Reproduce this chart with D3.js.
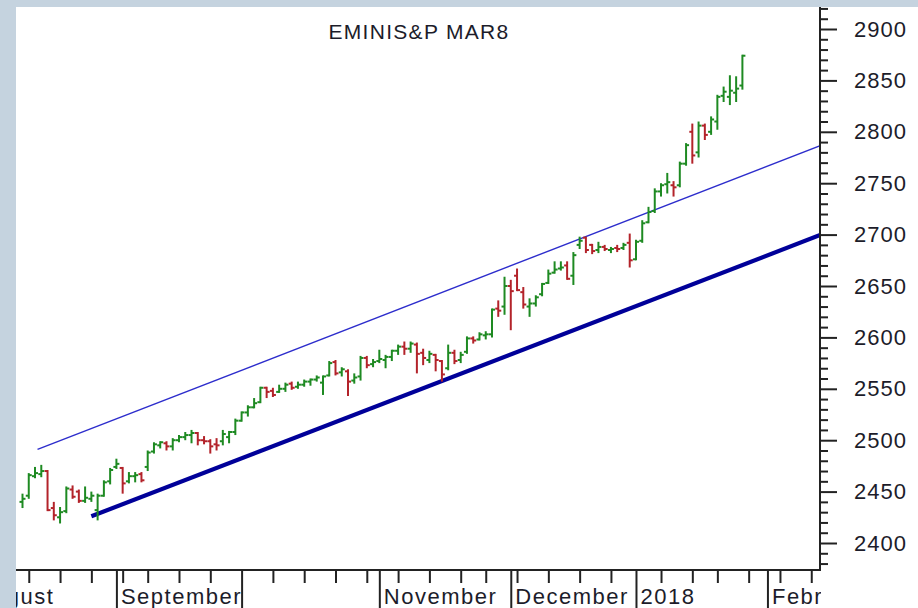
<!DOCTYPE html>
<html><head><meta charset="utf-8">
<script src="https://cdn.jsdelivr.net/npm/d3@7/dist/d3.min.js"></script>
<style>
html,body{margin:0;padding:0;background:#c5d3df;}
svg{display:block;}
text{font-family:"Liberation Sans",Arial,sans-serif;}
</style></head>
<body><svg id="c" width="918" height="608"></svg>
<script>
// ---- data ----
const title = "EMINIS&P MAR8";
const dates = [
"2017-08-11","2017-08-14","2017-08-15","2017-08-16","2017-08-17","2017-08-18","2017-08-21","2017-08-22","2017-08-23","2017-08-24","2017-08-25","2017-08-28","2017-08-29","2017-08-30","2017-08-31",
"2017-09-01","2017-09-05","2017-09-06","2017-09-07","2017-09-08","2017-09-11","2017-09-12","2017-09-13","2017-09-14","2017-09-15","2017-09-18","2017-09-19","2017-09-20","2017-09-21","2017-09-22","2017-09-25","2017-09-26","2017-09-27","2017-09-28","2017-09-29",
"2017-10-02","2017-10-03","2017-10-04","2017-10-05","2017-10-06","2017-10-09","2017-10-10","2017-10-11","2017-10-12","2017-10-13","2017-10-16","2017-10-17","2017-10-18","2017-10-19","2017-10-20","2017-10-23","2017-10-24","2017-10-25","2017-10-26","2017-10-27","2017-10-30","2017-10-31",
"2017-11-01","2017-11-02","2017-11-03","2017-11-06","2017-11-07","2017-11-08","2017-11-09","2017-11-10","2017-11-13","2017-11-14","2017-11-15","2017-11-16","2017-11-17","2017-11-20","2017-11-21","2017-11-22","2017-11-24","2017-11-27","2017-11-28","2017-11-29","2017-11-30",
"2017-12-01","2017-12-04","2017-12-05","2017-12-06","2017-12-07","2017-12-08","2017-12-11","2017-12-12","2017-12-13","2017-12-14","2017-12-15","2017-12-18","2017-12-19","2017-12-20","2017-12-21","2017-12-22","2017-12-26","2017-12-27","2017-12-28","2017-12-29",
"2018-01-02","2018-01-03","2018-01-04","2018-01-05","2018-01-08","2018-01-09","2018-01-10","2018-01-11","2018-01-12","2018-01-16","2018-01-17","2018-01-18","2018-01-19","2018-01-22","2018-01-23","2018-01-24","2018-01-25","2018-01-26"];
const opens = [
2440,2446,2465,2467,2470,2434,2425,2431,2452,2450,2441,2443,2432,2446,2460,
2474,2473,2460,2465,2467,2474,2489,2495,2497,2494,2500,2503,2505,2507,2500,2499,2496,2499,2503,2508,
2519,2527,2532,2537,2551,2548,2547,2550,2555,2552,2554,2557,2559,2556,2563,2576,2566,2567,2558,2562,2580,2574,
2577,2578,2581,2587,2591,2589,2593,2585,2578,2583,2577,2570,2585,2578,2586,2599,2598,2602,2603,2628,2630,
2650,2660,2644,2630,2633,2642,2653,2663,2667,2670,2660,2690,2697,2690,2685,2688,2685,2687,2687,2692,
2676,2694,2712,2723,2742,2749,2748,2748,2769,2800,2780,2806,2800,2810,2835,2834,2838,2845];
const highs = [
2448,2468,2474,2476,2471,2440,2435,2455,2456,2452,2455,2450,2448,2461,2473,
2482,2474,2469,2469,2469,2490,2498,2499,2499,2502,2505,2508,2510,2508,2504,2501,2502,2510,2509,2521,
2528,2534,2541,2552,2552,2551,2554,2556,2557,2557,2559,2560,2563,2563,2577,2578,2571,2569,2565,2582,2582,2579,
2588,2583,2588,2593,2596,2596,2595,2589,2587,2584,2578,2593,2588,2586,2601,2601,2605,2606,2628,2636,2659,
2656,2667,2649,2638,2641,2653,2666,2674,2674,2674,2683,2698,2698,2691,2693,2690,2688,2690,2692,2701,
2695,2714,2727,2745,2750,2760,2752,2771,2789,2808,2810,2808,2815,2836,2844,2855,2854,2875];
const lows = [
2434,2443,2463,2464,2431,2422,2419,2429,2443,2439,2439,2440,2422,2445,2457,
2472,2448,2458,2459,2459,2470,2487,2492,2490,2490,2498,2500,2497,2495,2496,2487,2490,2495,2497,2505,
2518,2523,2531,2536,2541,2542,2546,2547,2549,2550,2552,2553,2557,2544,2562,2563,2562,2543,2555,2558,2570,2571,
2575,2570,2577,2583,2583,2585,2565,2573,2575,2567,2557,2568,2574,2575,2584,2594,2597,2598,2600,2620,2622,
2607,2645,2628,2620,2630,2640,2652,2662,2665,2656,2651,2686,2682,2681,2682,2684,2682,2683,2685,2668,
2675,2692,2711,2721,2737,2740,2737,2746,2767,2769,2775,2792,2797,2802,2829,2826,2829,2841];
const closes = [
2443,2466,2468,2470,2432,2427,2430,2453,2445,2441,2444,2446,2446,2459,2471,
2477,2458,2465,2466,2461,2488,2496,2498,2494,2500,2503,2505,2507,2500,2499,2494,2495,2506,2508,2519,
2527,2532,2536,2551,2547,2544,2550,2554,2551,2554,2557,2559,2561,2562,2575,2565,2569,2557,2561,2580,2573,2576,
2579,2581,2587,2591,2589,2594,2584,2580,2584,2578,2564,2585,2577,2583,2599,2597,2603,2603,2627,2626,2650,
2645,2646,2632,2633,2639,2652,2662,2666,2668,2657,2680,2694,2685,2684,2688,2686,2686,2686,2690,2675,
2693,2711,2722,2742,2748,2751,2746,2769,2787,2777,2806,2797,2812,2834,2839,2840,2842,2874];
// trend lines: [trading-day index, price]
const upperTrend = [[2.4, 2491], [127.6, 2787]];
const lowerTrend = [[11.0, 2426], [127.6, 2700]];
// axis ticks (trading-day index)
const weekTicks = [1,6,11,16,20,25,30,40,45,50,55,60,65,70,74,79,84,89,94,102,107,111,116,121,126];
const monthStarts = [-8,15,35,57,78,98,119];
const monthLabels = ["August","September","","November","December","2018","February"];
const priceTicks = [2400,2450,2500,2550,2600,2650,2700,2750,2800,2850,2900];

// ---- layout ----
const L = 16, T = 7, R = 820, B = 570;
const svg = d3.select("#c");
svg.append("rect").attr("width",918).attr("height",608).attr("fill","#c5d3df");
svg.append("rect").attr("x",L).attr("y",T).attr("width",918-L).attr("height",608-T).attr("fill","#ffffff");

const x = d3.scaleLinear().domain([0,115]).range([22.5, 22.5 + 115*6.26]);
const y = d3.scaleLinear().domain([2400,2900]).range([543,29]);

const defs = svg.append("defs");
defs.append("clipPath").attr("id","plot").append("rect").attr("x",L).attr("y",T).attr("width",R-L).attr("height",B-T);
defs.append("clipPath").attr("id","xax").append("rect").attr("x",L).attr("y",B-2).attr("width",R-L+1).attr("height",608-B+2);

const plot = svg.append("g").attr("clip-path","url(#plot)");

// trend lines
const line = d3.line().x(d=>x(d[0])).y(d=>y(d[1]));
plot.append("path").datum(upperTrend).attr("d",line).attr("fill","none").attr("stroke","#2d2dcc").attr("stroke-width",1.4);
plot.append("path").datum(lowerTrend).attr("d",line).attr("fill","none").attr("stroke","#000099").attr("stroke-width",4.2);

// OHLC bars
const bars = dates.map((d,i)=>({i, o:opens[i], h:highs[i], l:lows[i], c:closes[i]}));
const g = plot.append("g").selectAll("g").data(bars).join("g")
  .attr("stroke", d => d.c >= d.o ? "#1e8a22" : "#b3232a")
  .attr("stroke-width", 2).attr("fill","none");
g.append("line").attr("x1",d=>x(d.i)).attr("x2",d=>x(d.i)).attr("y1",d=>y(d.h)).attr("y2",d=>y(d.l));
g.append("line").attr("x1",d=>x(d.i)-3).attr("x2",d=>x(d.i)).attr("y1",d=>y(d.o)).attr("y2",d=>y(d.o));
g.append("line").attr("x1",d=>x(d.i)).attr("x2",d=>x(d.i)+3).attr("y1",d=>y(d.c)).attr("y2",d=>y(d.c));

// title
svg.append("text").attr("x",419).attr("y",39).attr("text-anchor","middle")
  .attr("font-size",21).attr("letter-spacing","1.3px").attr("fill","#1c1c2a").text(title);

// right axis
const minor = d3.range(2380, 2921, 10).filter(v => v % 50 !== 0);
const ya = svg.append("g").attr("transform",`translate(${R},0)`);
ya.call(d3.axisRight(y).tickValues(minor).tickSize(8).tickFormat(""));
ya.call(g2 => g2.selectAll(".tick line").attr("stroke","#222").attr("stroke-width",2));
const yb = svg.append("g").attr("transform",`translate(${R},0)`);
yb.call(d3.axisRight(y).tickValues(priceTicks).tickSize(17).tickPadding(17).tickFormat(d3.format("d")));
yb.selectAll(".tick line").attr("stroke","#222").attr("stroke-width",2);
yb.selectAll("text").attr("font-size",22).attr("letter-spacing","1px").attr("fill","#1c1c2a")
  .attr("font-family","'Liberation Sans',Arial,sans-serif");
ya.select(".domain").remove(); yb.select(".domain").remove();

// bottom axis
const xg = svg.append("g").attr("clip-path","url(#xax)");
const xa = xg.append("g").attr("transform",`translate(0,${B})`);
xa.call(d3.axisBottom(x).tickValues(weekTicks).tickSize(13).tickFormat(""));
xa.selectAll(".tick line").attr("stroke","#222").attr("stroke-width",2);
xa.select(".domain").remove();
const xm = xg.append("g").attr("transform",`translate(0,${B})`);
xm.call(d3.axisBottom(x).tickValues(monthStarts).tickSize(40).tickFormat((d,i)=>monthLabels[i]));
xm.selectAll(".tick line").attr("stroke","#222").attr("stroke-width",2);
xm.selectAll("text").attr("text-anchor","start").attr("x",4).attr("y",34).attr("dy",null)
  .attr("font-size",22).attr("letter-spacing","1.5px").attr("fill","#1c1c2a")
  .attr("font-family","'Liberation Sans',Arial,sans-serif");
xm.select(".domain").remove();

// axis frame lines
svg.append("line").attr("x1",L).attr("x2",R+1).attr("y1",B).attr("y2",B).attr("stroke","#222").attr("stroke-width",2);
svg.append("line").attr("x1",R).attr("x2",R).attr("y1",T).attr("y2",B+1).attr("stroke","#222").attr("stroke-width",2);
</script></body></html>
